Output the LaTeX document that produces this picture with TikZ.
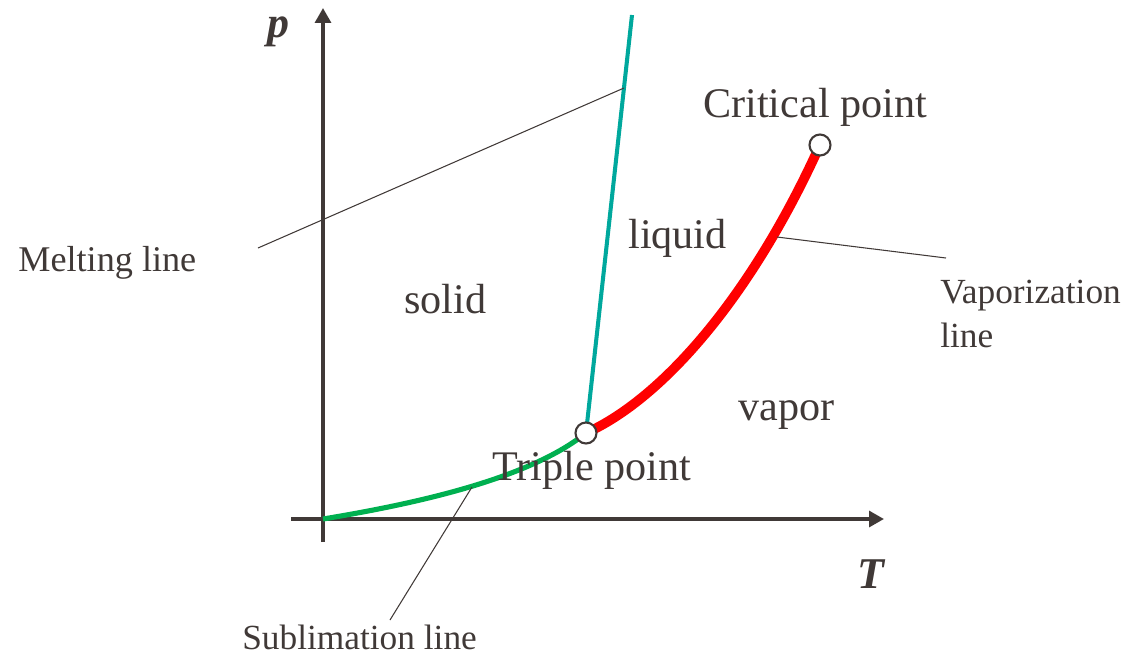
\documentclass[tikz,border=0pt]{standalone}
\usepackage{fontspec}
\setmainfont{Liberation Serif}
\usepackage{xcolor}
\usetikzlibrary{arrows.meta}

\definecolor{ink}{RGB}{64,57,55}
\definecolor{meltcol}{RGB}{0,168,157}
\definecolor{vapcol}{RGB}{255,0,0}
\definecolor{sublcol}{RGB}{0,176,80}

\begin{document}
\begin{tikzpicture}[
  x=0.02cm, y=-0.02cm,
  axis/.style={draw=ink, line width=2pt, -{Triangle[length=8.5pt, width=9pt]}},
  phase/.style={text=ink, inner sep=0pt, anchor=base west, font=\fontsize{24}{28}\selectfont},
  note/.style={text=ink, inner sep=0pt, anchor=base west, align=left, font=\fontsize{20.1}{25}\selectfont},
  axlbl/.style={text=ink, inner sep=0pt, anchor=base, font=\fontsize{25}{30}\selectfont\bfseries\itshape},
  lead/.style={draw=ink, line width=0.6pt},
  pnt/.style={circle, draw=ink, line width=1.2pt, fill=white, minimum size=0.42cm, inner sep=0pt}
]
  \useasboundingbox (0,0) rectangle (1127,657);

  % axes
  \coordinate (xs) at (291,519);
  \coordinate (xe) at (884,519);
  \coordinate (ys) at (323,542);
  \coordinate (ye) at (323,8);
  \draw[axis] (xs) -- (xe);
  \draw[axis] (ys) -- (ye);
  \node[axlbl] (plbl) at (278,37) {p};
  \node[axlbl] (tlbl) at (871,588) {T};

  % phase boundaries
  \coordinate (o)   at (323,519);
  \coordinate (tpc) at (586,433);
  \coordinate (cpc) at (820,145);
  \coordinate (top) at (632,15);
  \draw[draw=meltcol, line width=2.3pt] (tpc) -- (top);
  \draw[draw=sublcol, line width=2.9pt] (o) .. controls (420,503) and (530,478) .. (tpc);
  \draw[draw=vapcol, line width=5.5pt] (tpc) .. controls (660,400) and (750,300) .. (cpc);
  \node[pnt] (tp) at (tpc) {};
  \node[pnt] (cp) at (cpc) {};

  % region and point labels
  \node[phase] (solid)  at (404,313) {solid};
  \node[phase] (liquid) at (628,248) {liquid};
  \node[phase] (vapor)  at (738,420) {vapor};
  \node[phase] (tplbl)  at (492,480) {Triple point};
  \node[phase] (cplbl)  at (703,117) {Critical point};

  % line labels with leaders
  \node[phase, font=\fontsize{20.6}{25}\selectfont] (melt) at (18,271) {Melting line};
  \node[note] (vap)  at (940,347) {Vaporization\\line};
  \node[note] (subl) at (242,649) {Sublimation line};

  \coordinate (m1) at (258,248);
  \coordinate (m2) at (624,88);
  \coordinate (v1) at (777,237);
  \coordinate (v2) at (946,258);
  \coordinate (s1) at (472,487);
  \coordinate (s2) at (390,620);
  \draw[lead] (m1) -- (m2);
  \draw[lead] (v1) -- (v2);
  \draw[lead] (s1) -- (s2);
\end{tikzpicture}
\end{document}
